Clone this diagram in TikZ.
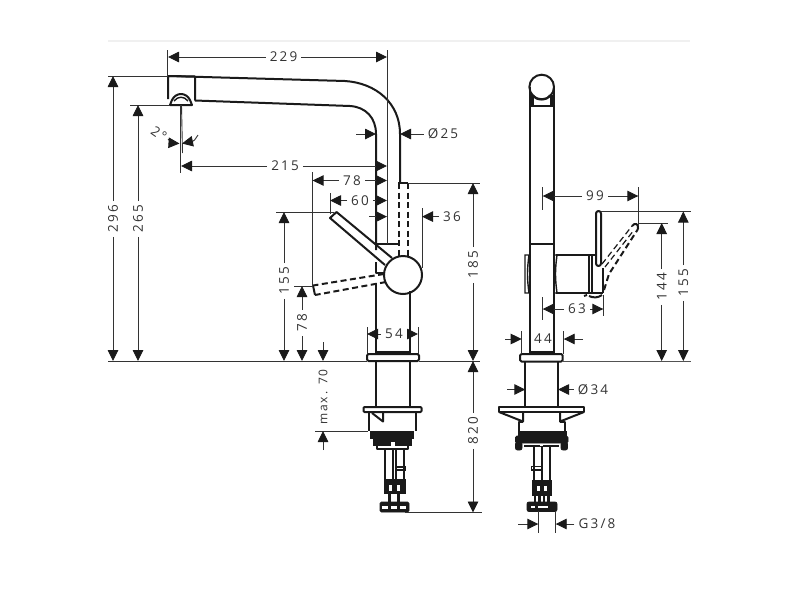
\documentclass[tikz,border=0pt]{standalone}
\usepackage{xcolor}
\usepackage{fontspec}
\usepackage{tikz}
\usetikzlibrary{arrows.meta}
\setmainfont[LetterSpace=16]{Open Sans}
\definecolor{inkline}{HTML}{1A1A1A}
\definecolor{dimgray}{HTML}{333333}
\tikzset{
	part/.style={draw=inkline,line width=2pt,line join=round},
	thinpart/.style={draw=inkline,line width=1.4pt},
	hidden/.style={part,dash pattern=on 6pt off 3.5pt},
	dimline/.style={draw=dimgray,line width=0.9pt},
	dimarrow/.style={dimline,-{Triangle[length=11pt,width=10.5pt,color=inkline]}},
	dimlabel/.style={text=dimgray,font=\fontsize{13.5}{14}\selectfont,inner sep=4pt},
	vlabel/.style={dimlabel,rotate=90},
	blackbit/.style={fill=inkline,draw=inkline,line width=0.8pt}
}

\begin{document}
\begin{tikzpicture}[x=1pt,y=-1pt]
	\useasboundingbox (0,0) rectangle (800,600);
	\draw[line width=1.6pt,draw=black!6] (108,41) -- (690,41);

	% side view, spout
	\draw[part] (168,76) -- (345,81) .. controls (376,83) and (400,103) .. (400,134) -- (400,183);
	\draw[part] (195,100.5) -- (350,106) .. controls (366,107) and (376,118) .. (376,134) -- (376,250);
	\draw[part] (168,99) -- (168,76) -- (195,76.5) -- (195,100.5);
	\draw[part] (170,105) -- (192,105) -- (190,100) .. controls (186,92) and (176,92) .. (172,100) -- cycle;
	\draw[thinpart] (174,101) .. controls (178,96) and (184,96) .. (188,101);
	\draw[part] (376,244) -- (398,244);
	\draw[part] (398,183) -- (408,183);
	\draw[hidden] (398.5,183) -- (398.5,256);
	\draw[hidden] (407.5,183) -- (407.5,256);

	% lever and hub
	\draw[hidden] (384,274) -- (313,285.5);
	\draw[hidden] (386,282) -- (315,295);
	\draw[part] (313,285.5) -- (315,295);
	\draw[part] (376,262) -- (376,273) -- (384,273);
	\draw[part] (392,258) -- (336.5,212) -- (330,218) -- (385,265);
	\draw[part] (403,275) circle (19pt);

	% side view, body and base
	\draw[part] (376,283) -- (376,353);
	\draw[part] (410,291) -- (410,353);
	\draw[thinpart] (376,352) -- (410,352);
	\draw[part,rounded corners=1.5pt] (367,354) rectangle (419,361);
	\draw[part] (376,361) -- (376,407);
	\draw[part] (409.5,361) -- (409.5,407);
	\draw[part,rounded corners=1pt] (363.5,407) rectangle (421.5,412);
	\draw[part] (368.5,412) -- (368.5,431);
	\draw[part] (416,412) -- (416,431);
	\draw[part] (372,413) -- (383,421.5) -- (383,413);
	\draw[blackbit] (370,431) rectangle (413,438);
	\draw[blackbit] (373.5,438) rectangle (411.5,445);
	\draw[part] (377,445) -- (377,448.5) -- (408,448.5) -- (408,445);
	\fill[white] (390.5,442) rectangle (395,447.5);
	\draw[part] (385,449) -- (385,480);
	\draw[thinpart] (393,449) -- (393,480);
	\draw[part] (396,449) -- (396,480);
	\draw[part] (404,449) -- (404,480);
	\draw[thinpart] (396,467) rectangle (405,470);
	\draw[blackbit] (384,479.5) rectangle (405,493);
	\fill[white] (389,485) rectangle (392,491);
	\fill[white] (397,485) rectangle (400,491);
	\draw[line width=2.6pt,draw=inkline] (389.5,493) -- (389.5,502);
	\draw[line width=2.6pt,draw=inkline] (398.5,493) -- (398.5,502);
	\draw[blackbit,rounded corners=1.5pt] (380,502) rectangle (409,512);
	\foreach \spotx in {385,394,403} {
		\fill[white] (\spotx-2.8,506) rectangle (\spotx+2.8,508.5);
	}

	% front view
	\draw[part] (541.7,87) circle (12.3pt);
	\draw[part] (529.5,87) -- (529.5,353);
	\draw[part] (553.8,87) -- (553.8,353);
	\draw[part] (529.5,105.5) -- (553.8,105.5);
	\draw[part] (533,95) .. controls (535,101) and (548,101) .. (550,95);
	\draw[blackbit] (530,95) -- (533,95) -- (533,105) -- (530,105) -- cycle;
	\draw[blackbit] (553,95) -- (550,95) -- (550,105) -- (553,105) -- cycle;
	\draw[part] (529.5,244) -- (553.8,244);
	\draw[thinpart] (525,255) -- (529,255) .. controls (527,270) and (527,278) .. (529,293) -- (525,293) -- cycle;
	\draw[thinpart] (554,255) -- (557,255) .. controls (555,270) and (555,278) .. (557,293) -- (554,293);
	\draw[part] (556,255) -- (590,255);
	\draw[part] (556,293) -- (603,293);
	\draw[part] (589,255) -- (589,293);
	\draw[part] (592,255) -- (592,293);
	\draw[part] (590,255) -- (596,255);
	\draw[part] (603,268) -- (603,293);
	\draw[part] (584,296) -- (587,295);
	\draw[part] (589,296) .. controls (593,298) and (598,298) .. (602,295);
	\draw[part,rounded corners=2.5pt,fill=white] (596,211) rectangle (601,266);

	\draw[hidden,line width=1.2pt] (602,264) -- (632,226);
	\draw[hidden,line width=1.2pt] (605,267) -- (634,230);
	\draw[hidden] (604,290) -- (609,274) -- (638,229);
	\draw[part] (632,226) .. controls (635,222) and (639,224) .. (638,229);

	% front view, base
	\draw[thinpart] (529.5,352) -- (553.8,352);
	\draw[part,rounded corners=1.5pt] (520,354) rectangle (562.7,361.5);
	\draw[part] (525.3,361) -- (525.3,407);
	\draw[part] (558,361) -- (558,407);
	\draw[part] (499,407) rectangle (584,412);
	\draw[part] (499,412) -- (523,421.5) -- (523,412);
	\draw[part] (584,412) -- (560,421.5) -- (560,412);
	\draw[part] (523,421.5) -- (518.5,421.5) -- (518.5,431);
	\draw[part] (560,421.5) -- (565,421.5) -- (565,431);
	\draw[blackbit] (518,431) rectangle (566,442);
	\draw[blackbit,rounded corners=1.5pt] (515.5,436) rectangle (568,443);
	\draw[blackbit,rounded corners=2pt] (515.5,442) rectangle (522,450);
	\draw[blackbit,rounded corners=2pt] (561,442) rectangle (567.5,450);
	\draw[part] (524,446) -- (559,446);
	\fill[white] (540,443.5) rectangle (543,446);
	\draw[part] (533.5,447) -- (533.5,481);
	\draw[part] (541.5,447) -- (541.5,481);
	\draw[part] (550,447) -- (550,481);
	\draw[thinpart] (531.5,466.5) rectangle (542,470);
	\draw[blackbit] (532.5,480) rectangle (551.5,495);
	\fill[white] (537,486) rectangle (540,491);
	\fill[white] (544,486) rectangle (547,491);
	\foreach \barx in {535,539.5,544,548.5} {
		\draw[line width=2.4pt,draw=inkline] (\barx,495) -- (\barx,502);
	}
	\draw[blackbit,rounded corners=2pt] (527,502) rectangle (557,511.5);
	\fill[white] (538,505.5) rectangle (548,508);
	\fill[white] (531,505.5) rectangle (535,508);

	% extension lines
	\draw[dimline] (167.7,50) -- (167.7,76);
	\draw[dimline] (387,50) -- (387,244);
	\draw[dimline] (108,76) -- (168,76);
	\draw[dimline] (130,105) -- (170,105);
	\draw[dimline] (108,361) -- (367,361);
	\draw[dimline] (419,361) -- (480,361);
	\draw[dimline] (180.7,105) -- (180.7,173);
	\draw[dimline] (181.5,105) -- (182.5,153);
	\draw[dimline] (312.6,172) -- (312.6,286);
	\draw[dimline] (330,193) -- (330,214);
	\draw[dimline] (422,208) -- (422,268);
	\draw[dimline] (408,183) -- (480,183);
	\draw[dimline] (276,212) -- (334,212);
	\draw[dimline] (294,286) -- (313,286);
	\draw[dimline] (367,327) -- (367,354);
	\draw[dimline] (418,327) -- (418,354);
	\draw[dimline] (315,431) -- (368,431);
	\draw[dimline] (405,512.5) -- (482,512.5);
	\draw[dimline] (542.7,187) -- (542.7,210);
	\draw[dimline] (638.3,187) -- (638.3,226);
	\draw[dimline] (601,211.5) -- (691,211.5);
	\draw[dimline] (638,223) -- (668,223);
	\draw[dimline,line width=1.6pt,draw=dimgray!85] (563,361.5) -- (691,361.5);
	\draw[dimline] (542.7,297) -- (542.7,320);
	\draw[dimline] (603.3,295) -- (603.3,316);
	\draw[dimline] (521.7,331) -- (521.7,354);
	\draw[dimline] (563.7,331) -- (563.7,354);
	\draw[dimline] (538.3,511) -- (538.3,533);
	\draw[dimline] (555.7,511) -- (555.7,533);

	% dimensions with a label in the line
	\node[dimlabel] (l229) at (283.5,57) {229};
	\coordinate (a229) at (168,57);
	\coordinate (b229) at (387,57);
	\draw[dimarrow] (l229) -- (a229);
	\draw[dimarrow] (l229) -- (b229);

	\node[dimlabel] (l215) at (285,166) {215};
	\coordinate (a215) at (181,166);
	\coordinate (b215) at (387,166);
	\draw[dimarrow] (l215) -- (a215);
	\draw[dimarrow] (l215) -- (b215);

	\node[dimlabel] (l78top) at (352,180.5) {78};
	\coordinate (a78top) at (312.6,180.5);
	\coordinate (b78top) at (387,180.5);
	\draw[dimarrow] (l78top) -- (a78top);
	\draw[dimarrow] (l78top) -- (b78top);

	\node[dimlabel] (l60) at (360,200.5) {60};
	\coordinate (a60) at (330,200.5);
	\coordinate (b60) at (387,200.5);
	\draw[dimarrow] (l60) -- (a60);
	\draw[dimarrow] (l60) -- (b60);

	\node[dimlabel] (l99) at (595,196) {99};
	\coordinate (a99) at (542.7,196);
	\coordinate (b99) at (638.3,196);
	\draw[dimarrow] (l99) -- (a99);
	\draw[dimarrow] (l99) -- (b99);

	\node[dimlabel] (l63) at (577,309) {63};
	\coordinate (a63) at (542.7,309);
	\coordinate (b63) at (603.3,309);
	\draw[dimarrow] (l63) -- (a63);
	\draw[dimarrow] (l63) -- (b63);

	\node[vlabel] (l296) at (113,219) {296};
	\coordinate (a296) at (113,76);
	\coordinate (b296) at (113,361);
	\draw[dimarrow] (l296) -- (a296);
	\draw[dimarrow] (l296) -- (b296);

	\node[vlabel] (l265) at (138,219) {265};
	\coordinate (a265) at (138,105);
	\coordinate (b265) at (138,361);
	\draw[dimarrow] (l265) -- (a265);
	\draw[dimarrow] (l265) -- (b265);

	\node[vlabel] (l155a) at (284,281) {155};
	\coordinate (a155a) at (284,212);
	\coordinate (b155a) at (284,361);
	\draw[dimarrow] (l155a) -- (a155a);
	\draw[dimarrow] (l155a) -- (b155a);

	\node[vlabel] (l78low) at (302,323) {78};
	\coordinate (a78low) at (302,286);
	\coordinate (b78low) at (302,361);
	\draw[dimarrow] (l78low) -- (a78low);
	\draw[dimarrow] (l78low) -- (b78low);

	\node[vlabel] (l185) at (473,265) {185};
	\coordinate (a185) at (473,183);
	\coordinate (b185) at (473,361);
	\draw[dimarrow] (l185) -- (a185);
	\draw[dimarrow] (l185) -- (b185);

	\node[vlabel] (l820) at (473,431) {820};
	\coordinate (a820) at (473,361);
	\coordinate (b820) at (473,512.5);
	\draw[dimarrow] (l820) -- (a820);
	\draw[dimarrow] (l820) -- (b820);

	\node[vlabel] (l144) at (661.7,287) {144};
	\coordinate (a144) at (661.7,223);
	\coordinate (b144) at (661.7,361);
	\draw[dimarrow] (l144) -- (a144);
	\draw[dimarrow] (l144) -- (b144);

	\node[vlabel] (l155b) at (683.3,283) {155};
	\coordinate (a155b) at (683.3,211.5);
	\coordinate (b155b) at (683.3,361);
	\draw[dimarrow] (l155b) -- (a155b);
	\draw[dimarrow] (l155b) -- (b155b);

	\node[dimlabel] (l54) at (394,334) {54};
	\coordinate (a54) at (367,334);
	\coordinate (b54) at (418,334);
	\draw[dimarrow] (l54) -- (a54);
	\draw[dimarrow] (l54) -- (b54);

	% dimensions with arrows from outside
	\coordinate (t25a) at (356,134);
	\coordinate (h25a) at (376,134);
	\node[dimlabel] (l25) at (443,134) {Ø25};
	\coordinate (h25b) at (400,134);
	\draw[dimarrow] (t25a) -- (h25a);
	\draw[dimarrow] (l25) -- (h25b);

	\coordinate (t36a) at (369,216.6);
	\coordinate (h36a) at (387,216.6);
	\node[dimlabel] (l36) at (452,216.6) {36};
	\coordinate (h36b) at (422,216.6);
	\draw[dimarrow] (t36a) -- (h36a);
	\draw[dimarrow] (l36) -- (h36b);

	\coordinate (t44a) at (505,339);
	\coordinate (h44a) at (521.7,339);
	\node[dimlabel,inner sep=0pt] (l44) at (543,339) {44};
	\coordinate (t44b) at (583,339);
	\coordinate (h44b) at (563.7,339);
	\draw[dimarrow] (t44a) -- (h44a);
	\draw[dimarrow] (t44b) -- (h44b);

	\coordinate (t34a) at (507,389.5);
	\coordinate (h34a) at (525.3,389.5);
	\node[dimlabel] (l34) at (593,389.5) {Ø34};
	\coordinate (h34b) at (558,389.5);
	\draw[dimarrow] (t34a) -- (h34a);
	\draw[dimarrow] (l34) -- (h34b);

	\coordinate (tg38a) at (518,524);
	\coordinate (hg38a) at (538.3,524);
	\node[dimlabel] (lg38) at (597,524) {G3/8};
	\coordinate (hg38b) at (555.7,524);
	\draw[dimarrow] (tg38a) -- (hg38a);
	\draw[dimarrow] (lg38) -- (hg38b);

	\node[vlabel,inner sep=0pt,font=\fontsize{12}{13}\selectfont] (l70) at (323,397) {max. 70};
	\coordinate (t70a) at (323,342);
	\coordinate (h70a) at (323,361);
	\coordinate (t70b) at (323,450);
	\coordinate (h70b) at (323,431);
	\draw[dimarrow] (t70a) -- (h70a);
	\draw[dimarrow] (t70b) -- (h70b);

	\node[dimlabel,inner sep=0pt,rotate=-35] (l2) at (159,133.5) {2°};
	\coordinate (t2a) at (168,139);
	\coordinate (h2a) at (179.5,143.5);
	\coordinate (t2b) at (198,135);
	\coordinate (h2b) at (182,143.5);
	\draw[dimarrow] (t2a) .. controls (172,143) .. (h2a);
	\draw[dimarrow] (t2b) .. controls (194,141) .. (h2b);
\end{tikzpicture}
\end{document}
